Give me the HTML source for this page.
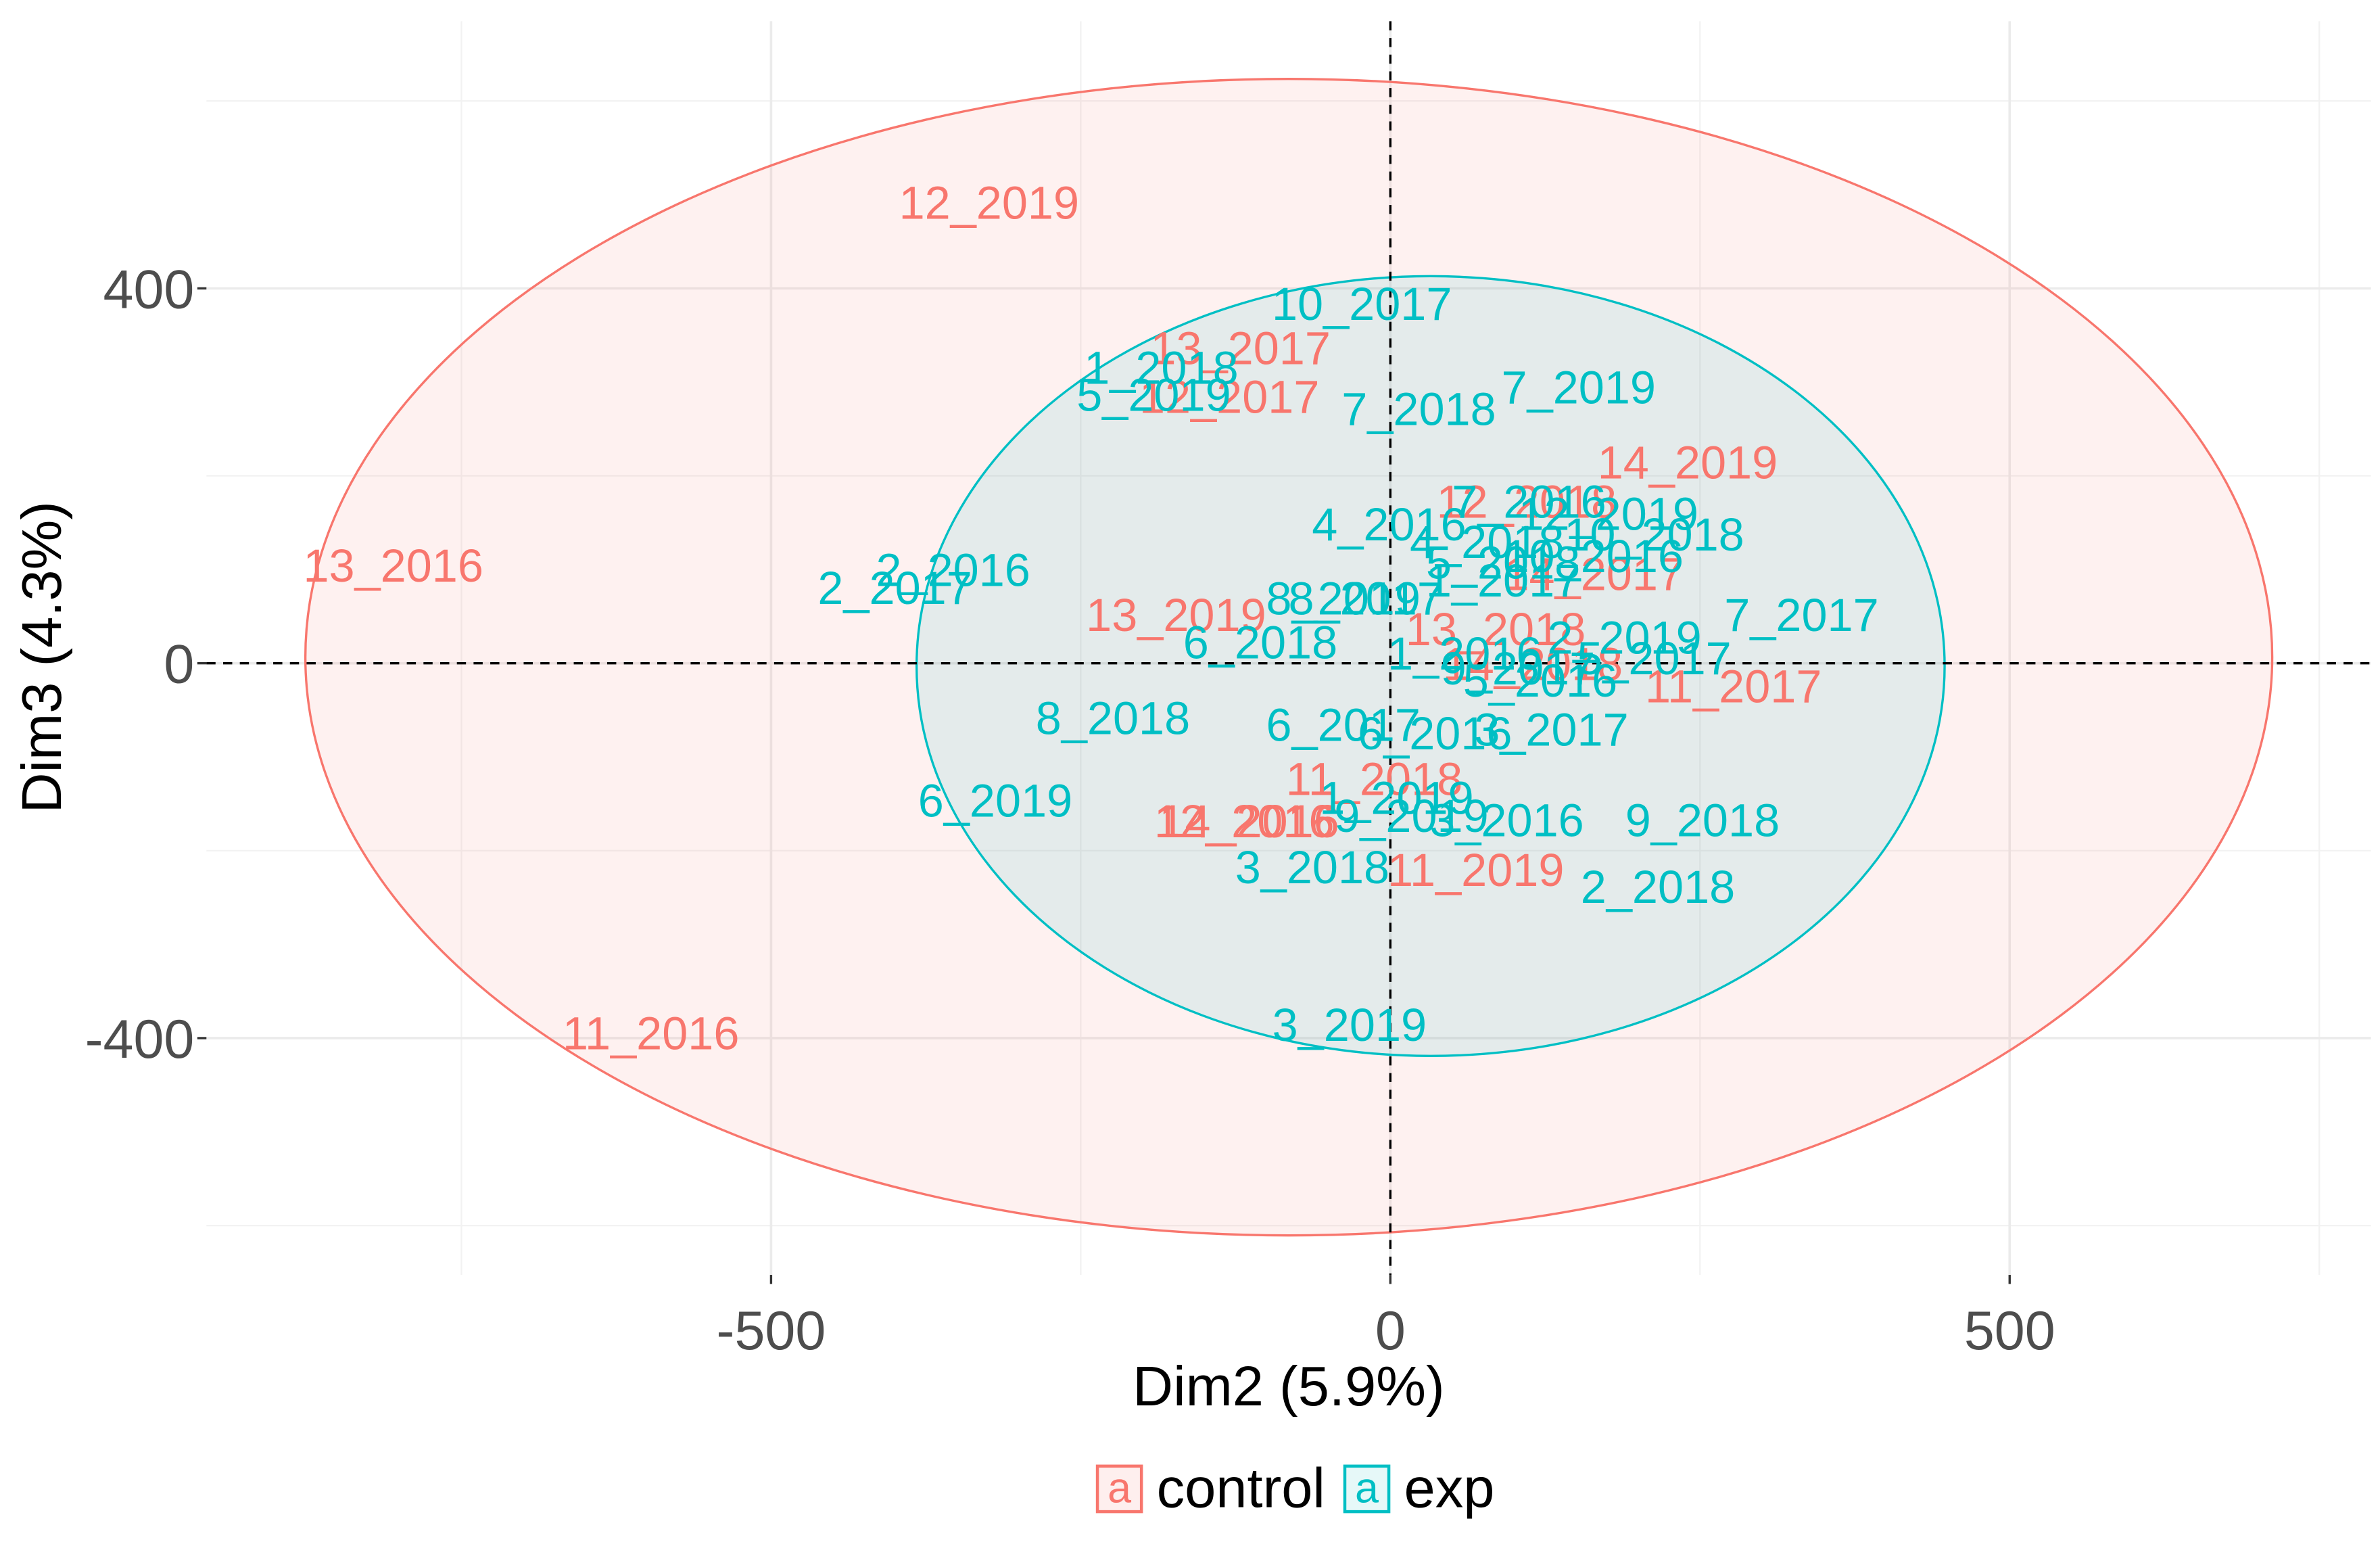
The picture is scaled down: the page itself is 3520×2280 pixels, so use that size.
<!DOCTYPE html>
<html><head><meta charset="utf-8"><style>
html,body{margin:0;padding:0;background:#fff;}
svg{display:block;font-family:"Liberation Sans",sans-serif;}
</style></head><body>
<svg id="chart" width="3520" height="2280" viewBox="0 0 1568 1016" preserveAspectRatio="none" xmlns="http://www.w3.org/2000/svg">
<g id="grid"></g>
<g id="ell"></g>
<g id="ref"></g>
<g id="lab"></g>
<g id="axes"></g>
<text x="849" y="926" font-size="37" text-anchor="middle" fill="#000">Dim2 (5.9%)</text>
<text transform="translate(40,433) rotate(-90)" font-size="37" text-anchor="middle" fill="#000">Dim3 (4.3%)</text>
<g>
 <g>
  <rect x="723" y="966" width="29" height="30" fill="#FEEFEE" stroke="#F8766D" stroke-width="2"/>
  <text x="737.5" y="990" font-size="28" text-anchor="middle" fill="#F8766D">a</text>
  <text x="762" y="993" font-size="37" fill="#000">control</text>
 </g>
 <g>
  <rect x="886" y="966" width="29" height="30" fill="#E6F8F8" stroke="#00BFC4" stroke-width="2"/>
  <text x="900.5" y="990" font-size="28" text-anchor="middle" fill="#00BFC4">a</text>
  <text x="925" y="993" font-size="37" fill="#000">exp</text>
 </g>
</g>
</svg>
<script>
const ctrlNames=["12_2019","13_2016","11_2016","13_2017","12_2017","14_2019","12_2018","14_2017","13_2019","13_2018","11_2017","14_2018","11_2018","12_2016","14_2016","11_2019"];
const ctrlX=[-324,-805,-597,-121,-130,240,110,164,-173,85,277,115,-13,-118,-114,69];
const ctrlY=[492,105,-394,337,285,215,173,96,52,37,-24,0,-123,-168,-168,-220];
const expNames=["10_2017","1_2018","5_2019","7_2018","7_2019","2_2016","2_2017","4_2016","7_2016","12_2019","10_2018","4_2018","10_2016","5_2018","1_2017","8_2019","8_2017","7_2017","6_2018","2_2019","1_2016","5_2017","9_2017","5_2016","8_2018","6_2017","6_2016","3_2017","6_2019","1_2019","9_2019","3_2016","9_2018","3_2018","2_2018","3_2019"];
const expX=[-23,-185,-191,23,152,-353,-400,-1,112,176,213,78,164,91,91,-38,-20,332,-105,189,60,213,103,121,-224,-38,36,130,-319,5,17,94,252,-63,216,-33];
const expY=[384,316,287,272,295,100,81,149,173,160,138,130,115,108,89,70,70,52,23,28,11,6,-5,-18,-58,-65,-74,-70,-146,-143,-162,-167,-167,-217,-238,-385];
const ellCtrl=[-82,6.5,794,617];
const ellExp=[32.5,-3,415,416];
const xTicks=[-500,0,500];
const yTicks=[-400,0,400];
const xMinor=[-750,-250,250,750];
const yMinor=[-600,-200,200,600];

const L=136,R=1562,T=14,B=840;
const sx=v=>916+v*0.816;
const sy=v=>437-v*0.6175;
const NS="http://www.w3.org/2000/svg";
function mk(tag,parent,attrs){const e=document.createElementNS(NS,tag);for(const k in attrs)e.setAttribute(k,attrs[k]);parent.appendChild(e);return e;}
const grid=document.getElementById('grid');
xMinor.forEach(v=>{const e=mk('line',grid,{x1:sx(v),x2:sx(v),y1:T,y2:B,stroke:'#F2F2F2','stroke-width':1});

});
yMinor.forEach(v=>{const e=mk('line',grid,{x1:L,x2:R,y1:sy(v),y2:sy(v),stroke:'#F2F2F2','stroke-width':1});

});
xTicks.forEach(v=>{const e=mk('line',grid,{x1:sx(v),x2:sx(v),y1:T,y2:B,stroke:'#EBEBEB','stroke-width':1.6});

});
yTicks.forEach(v=>{const e=mk('line',grid,{x1:L,x2:R,y1:sy(v),y2:sy(v),stroke:'#EBEBEB','stroke-width':1.6});

});

const ell=document.getElementById('ell');
function drawEll(p,stroke,fill,name){
 const cx=sx(p[0]),cy=sy(p[1]),rx=p[2]*0.816,ry=p[3]*0.6175;
 const e=mk('ellipse',ell,{cx:cx,cy:cy,rx:rx,ry:ry,fill:fill,'fill-opacity':0.1,stroke:stroke,'stroke-width':1.5});
 
 
}
drawEll(ellCtrl,'#F8766D','#F8766D','ellipse-control');
drawEll(ellExp,'#00BFC4','#00BFC4','ellipse-exp');

const ref=document.getElementById('ref');
const rv=mk('line',ref,{x1:sx(0),x2:sx(0),y1:T,y2:B,stroke:'#000','stroke-width':1.5,'stroke-dasharray':'6,5'});


const rh=mk('line',ref,{x1:L,x2:R,y1:sy(0),y2:sy(0),stroke:'#000','stroke-width':1.5,'stroke-dasharray':'6,5'});



const lab=document.getElementById('lab');
function drawLabels(names,xs,ys,color,grp){
 names.forEach((n,i)=>{
  const t=mk('text',lab,{x:sx(xs[i]),y:sy(ys[i]),dy:'0.36em','font-size':30.5,'text-anchor':'middle',fill:color});
  t.textContent=n;
  
  
 });
}
drawLabels(ctrlNames,ctrlX,ctrlY,'#F8766D','control');
drawLabels(expNames,expX,expY,'#00BFC4','exp');

const axes=document.getElementById('axes');
xTicks.forEach(v=>{
 const tk=mk('line',axes,{x1:sx(v),x2:sx(v),y1:B,y2:B+6,stroke:'#333','stroke-width':1.5});
 
 
 const t=mk('text',axes,{x:sx(v),y:889,'font-size':36,'text-anchor':'middle',fill:'#4D4D4D'});
 t.textContent=String(v);
 
 
});
yTicks.forEach(v=>{
 const tk=mk('line',axes,{x1:L-6,x2:L,y1:sy(v),y2:sy(v),stroke:'#333','stroke-width':1.5});
 
 
 const t=mk('text',axes,{x:L-8,y:sy(v),dy:'0.36em','font-size':36,'text-anchor':'end',fill:'#4D4D4D'});
 t.textContent=String(v);
 
 
});
</script>
</body></html>
